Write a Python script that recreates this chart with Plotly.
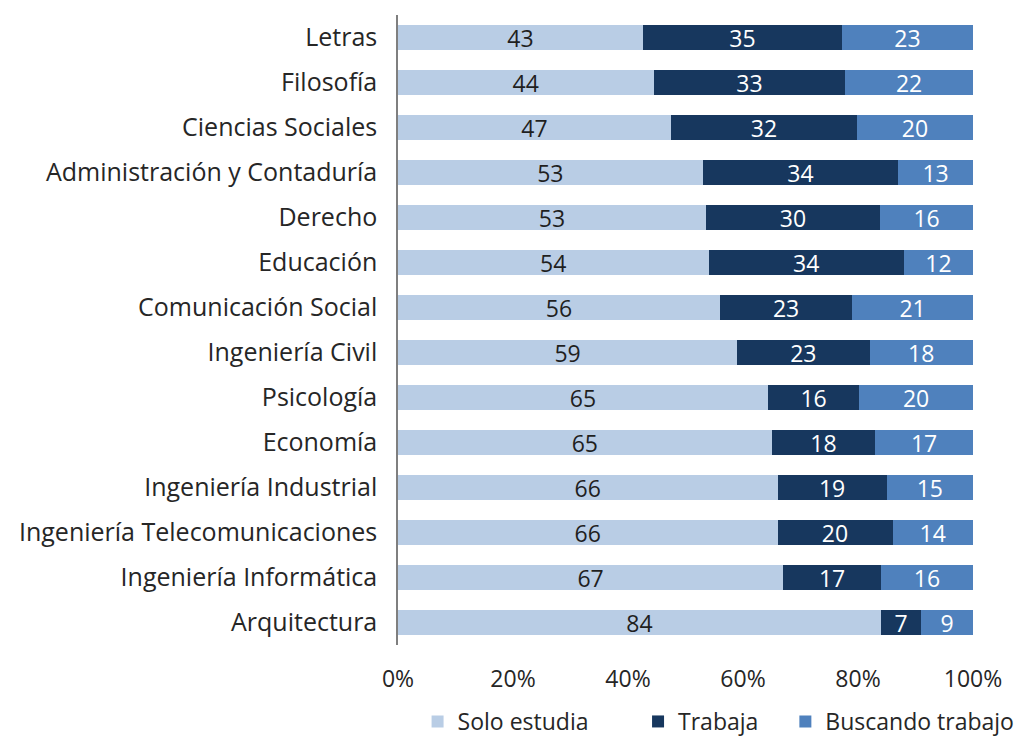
import plotly.graph_objects as go

categories = ["Letras", "Filosofía", "Ciencias Sociales", "Administración y Contaduría",
              "Derecho", "Educación", "Comunicación Social", "Ingeniería Civil",
              "Psicología", "Economía", "Ingeniería Industrial",
              "Ingeniería Telecomunicaciones", "Ingeniería Informática", "Arquitectura"]
solo_estudia = [43, 44, 47, 53, 53, 54, 56, 59, 65, 65, 66, 66, 67, 84]
trabaja = [35, 33, 32, 34, 30, 34, 23, 23, 16, 18, 19, 20, 17, 7]
buscando = [23, 22, 20, 13, 16, 12, 21, 18, 20, 17, 15, 14, 16, 9]
tick_vals = [0, 20, 40, 60, 80, 100]
tick_text = ["0%", "20%", "40%", "60%", "80%", "100%"]

FONT = "Open Sans"
FS = 23
TXT = "#262626"

series = [
    ("Solo estudia", solo_estudia, "#b9cde5", "#1f1f1f", "legend", 0.411),
    ("Trabaja", trabaja, "#17375e", "#ffffff", "legend2", 0.628),
    ("Buscando trabajo", buscando, "#4f81bd", "#ffffff", "legend3", 0.773),
]

fig = go.Figure()
legends = {}
for name, vals, color, tcolor, leg, lx in series:
    fig.add_trace(go.Bar(
        y=categories, x=vals, name=name, orientation="h",
        marker=dict(color=color, line=dict(width=0)),
        text=[str(v) for v in vals], textposition="inside",
        insidetextanchor="middle", textangle=0,
        textfont=dict(color=tcolor, size=FS, family=FONT),
        constraintext="none", legend=leg,
    ))
    legends[leg] = dict(orientation="h", x=lx, xanchor="left", y=0.025, yanchor="middle",
                        xref="container", yref="container",
                        font=dict(size=23, color=TXT, family=FONT), itemwidth=30,
                        bgcolor="rgba(0,0,0,0)")

fig.update_layout(
    barmode="stack", barnorm="percent", bargap=0.46,
    width=1016, height=740,
    margin=dict(l=398, r=43, t=15, b=95, autoexpand=False),
    paper_bgcolor="white", plot_bgcolor="white",
    font=dict(family=FONT, size=FS, color=TXT),
    uniformtext=dict(minsize=FS, mode="show"),
    showlegend=True,
    **legends,
)
fig.update_xaxes(range=[0, 100], tickvals=tick_vals, ticktext=tick_text,
                 showgrid=False, zeroline=False, showline=False, ticks="",
                 tickfont=dict(size=FS, color=TXT), fixedrange=True,
                 automargin=False, ticklabelstandoff=18)
fig.update_yaxes(autorange="reversed", showgrid=False, showline=True,
                 linecolor="#7f7f7f", linewidth=1.5, ticks="",
                 tickfont=dict(size=25, color=TXT),
                 automargin=False, ticklabelstandoff=14)

fig.write_html("out.html", config={"displayModeBar": False},
               post_script="document.body.style.margin='0';document.body.style.overflow='hidden';")
